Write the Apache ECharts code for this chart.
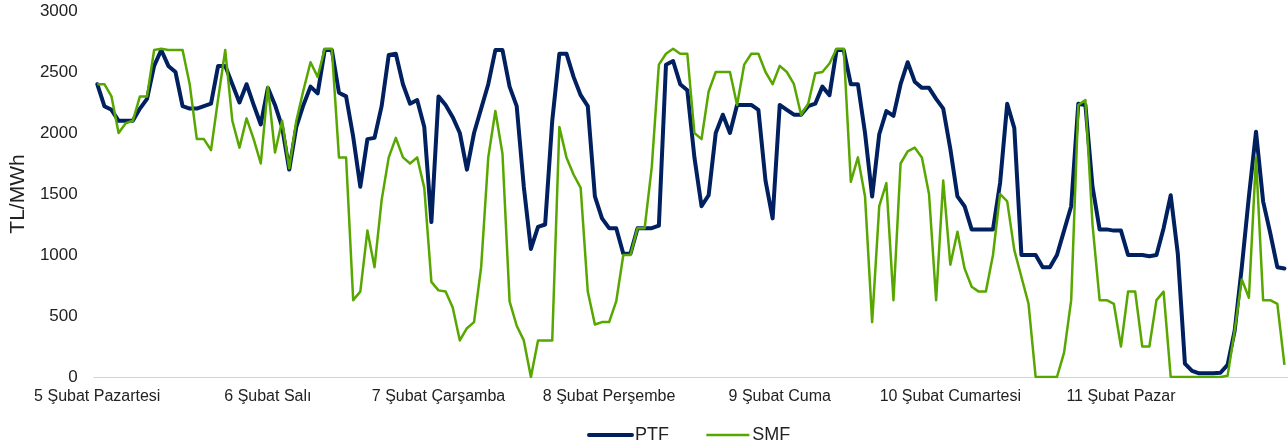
<!DOCTYPE html>
<html><head><meta charset="utf-8">
<script src="https://cdn.jsdelivr.net/npm/echarts@6/dist/echarts.min.js"></script>
<style>html,body{margin:0;padding:0;background:#fff}#c{width:1288px;height:445px}</style>
</head><body><div id="c"></div>
<script>
const dayLabels = ['5 Şubat Pazartesi','6 Şubat Salı','7 Şubat Çarşamba','8 Şubat Perşembe','9 Şubat Cuma','10 Şubat Cumartesi','11 Şubat Pazar'];
const hoursPerDay = 24;
const yTicks = [0, 500, 1000, 1500, 2000, 2500, 3000];
const ptf = [
2400,2220,2190,2100,2100,2100,2200,2280,2550,2680,2550,2500,2220,2200,2200,2220,2240,2550,2550,2400,2250,2400,2230,2070,
2370,2230,2050,1700,2050,2230,2380,2325,2680,2680,2330,2300,1970,1560,1950,1960,2220,2640,2650,2400,2240,2270,2050,1270,
2300,2230,2130,2000,1700,2000,2200,2400,2680,2680,2380,2220,1560,1050,1230,1250,2100,2650,2650,2460,2310,2220,1480,1300,
1220,1220,1010,1010,1220,1220,1220,1240,2560,2590,2400,2350,1800,1400,1490,2000,2150,2000,2230,2230,2230,2190,1610,1300,
2230,2190,2150,2150,2220,2240,2380,2310,2680,2680,2400,2400,2000,1480,1990,2180,2140,2400,2580,2420,2370,2370,2280,2200,
1870,1480,1400,1210,1210,1210,1210,1590,2240,2040,1000,1000,1000,900,900,1000,1200,1400,2240,2230,1560,1210,1210,1200,
1200,1000,1000,1000,990,1000,1220,1490,1010,110,50,30,30,30,35,100,380,900,1480,2010,1440,1180,900,890
];
const smf = [
2400,2400,2300,2000,2080,2100,2300,2300,2680,2690,2680,2680,2680,2400,1950,1950,1860,2280,2680,2100,1880,2120,1950,1750,
2380,1840,2100,1710,2100,2350,2580,2460,2690,2690,1800,1800,630,700,1200,900,1450,1800,1960,1800,1750,1800,1550,780,
710,700,570,300,400,450,900,1800,2180,1830,620,420,300,0,300,300,300,2050,1800,1660,1550,700,430,450,
450,620,1000,1000,1220,1220,1720,2560,2650,2690,2650,2650,2000,1950,2340,2500,2500,2500,2230,2560,2650,2650,2500,2400,
2550,2500,2400,2150,2240,2490,2500,2570,2690,2690,1600,1800,1480,450,1400,1590,630,1750,1850,1880,1800,1500,630,1610,
920,1190,890,740,700,700,1000,1500,1440,1040,820,600,0,0,0,0,200,630,2230,2270,1250,630,630,600,
250,700,700,250,250,630,700,0,0,0,0,0,0,0,0,10,380,800,650,1800,630,630,600,100
];
const categories = [];
dayLabels.forEach(d => { for (let h = 0; h < hoursPerDay; h++) categories.push(h === 0 ? d : d + ' ' + h + ':00'); });

const chart = echarts.init(document.getElementById('c'));
const font = 'Liberation Sans, Arial, sans-serif';
chart.setOption({
  animation: false,
  textStyle: { fontFamily: font },
  grid: { left: 92, width: 1204, top: 11, height: 366, containLabel: false },
  legend: {
    left: 587, top: 426, padding: 0, itemWidth: 43, itemHeight: 2, itemGap: 36,
    itemStyle: { opacity: 0 },
    textStyle: { fontSize: 18, color: '#222', fontFamily: font, padding: [0,0,0,-2] },
    data: [
      { name: 'PTF', lineStyle: { width: 4, color: '#002060', cap: 'round' } },
      { name: 'SMF', lineStyle: { width: 2.7, color: '#58a700' } }
    ]
  },
  xAxis: {
    type: 'category', data: categories, boundaryGap: true,
    axisLine: { lineStyle: { color: '#d4d4d4', width: 1.2 } },
    axisTick: { interval: hoursPerDay - 1, length: 5, lineStyle: { color: '#d4d4d4', width: 1.2 } },
    axisLabel: {
      interval: hoursPerDay - 1, fontSize: 16, color: '#222', margin: 12, fontFamily: font,
      formatter: v => dayLabels.includes(v) ? v : ''
    },
    splitLine: { show: false }
  },
  yAxis: {
    type: 'value', min: yTicks[0], max: yTicks[yTicks.length - 1], interval: 500,
    name: 'TL/MWh', nameLocation: 'middle', nameRotate: 90, nameGap: 62,
    nameTextStyle: { fontSize: 21, color: '#222', fontFamily: font },
    axisLine: { show: false }, axisTick: { show: false }, splitLine: { show: false },
    axisLabel: { fontSize: 17, color: '#222', margin: 16, fontFamily: font, formatter: v => String(v) }
  },
  series: [
    { name: 'PTF', type: 'line', data: ptf, symbol: 'none', smooth: false,
      lineStyle: { color: '#002060', width: 4, join: 'round', cap: 'round' }, itemStyle: { color: '#002060' } },
    { name: 'SMF', type: 'line', data: smf, symbol: 'none', smooth: false,
      lineStyle: { color: '#58a700', width: 2.5, join: 'round' }, itemStyle: { color: '#58a700' } }
  ]
});
</script></body></html>
